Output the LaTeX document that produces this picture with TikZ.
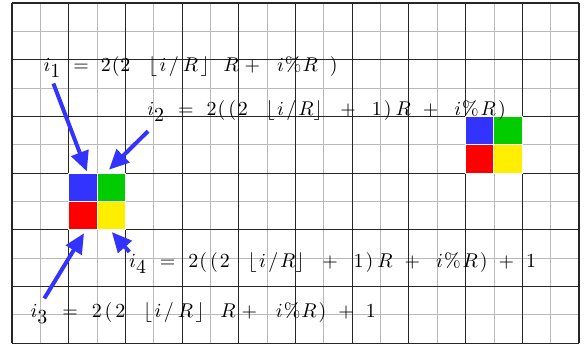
\documentclass[tikz,border=0pt]{standalone}
\usetikzlibrary{arrows.meta}
\definecolor{sqblue}{RGB}{51,51,255}
\definecolor{sqgreen}{RGB}{0,204,0}
\definecolor{sqred}{RGB}{255,0,0}
\definecolor{sqyellow}{RGB}{255,238,0}
\newcommand{\gsp}[1]{\hspace{#1pt}}
\begin{document}
\begin{tikzpicture}[
  minorgrid/.style={gray!55, line width=0.45pt},
  majorgrid/.style={black!85, line width=0.55pt},
  cell/.style={draw=white, line width=0.5pt, minimum size=0.5cm, inner sep=0pt, outer sep=0pt},
  pointer/.style={sqblue, line width=2pt, -{Triangle[length=10pt,width=9pt]}},
  formula/.style={anchor=base west, inner sep=0pt, font=\normalsize}
]
\useasboundingbox (-0.212,-0.07) rectangle (10.088,6.053);
\draw[minorgrid] (0,0) grid[step=0.5] (10,6);
\draw[majorgrid] (0,0) grid[step=1] (10,6);
% left block
\node[cell, fill=sqblue]   (b1) at (1.25,2.75) {};
\node[cell, fill=sqgreen]  (g1) at (1.75,2.75) {};
\node[cell, fill=sqred]    (r1) at (1.25,2.25) {};
\node[cell, fill=sqyellow] (y1) at (1.75,2.25) {};
% right block
\node[cell, fill=sqblue]   (b2) at (8.25,3.75) {};
\node[cell, fill=sqgreen]  (g2) at (8.75,3.75) {};
\node[cell, fill=sqred]    (r2) at (8.25,3.25) {};
\node[cell, fill=sqyellow] (y2) at (8.75,3.25) {};
% labels
\node[formula] (l1) at (0.55,4.80) {$i_{\textstyle 1}\gsp{6}{=}\gsp{6}2\gsp{.5}(\gsp{.5}2\gsp{9}\lfloor\gsp{1.2}i\gsp{1.2}/\gsp{2}R\gsp{1.2}\rfloor\gsp{7}R\gsp{3}{+}\gsp{8.5}i\gsp{.5}\%\gsp{.5}R\gsp{6})$};
\node[formula] (l2) at (2.38,4.02) {$i_{\textstyle 2}\gsp{6.5}{=}\gsp{6.5}2\gsp{.5}(\gsp{1.5}(\gsp{1}2\gsp{9}\lfloor\gsp{1.2}i\gsp{1.2}/\gsp{1}R\rfloor\gsp{9}{+}\gsp{8}1\gsp{1})\gsp{2}R\gsp{6}{+}\gsp{8}i\gsp{.5}\%\gsp{1}R\gsp{1})$};
\node[formula] (l4) at (2.06,1.34) {$i_{\textstyle 4}\gsp{6.5}{=}\gsp{6.5}2\gsp{.5}(\gsp{1.5}(\gsp{1}2\gsp{9}\lfloor\gsp{1.2}i\gsp{1.2}/\gsp{1}R\rfloor\gsp{9}{+}\gsp{8}1\gsp{1})\gsp{2}R\gsp{6}{+}\gsp{8}i\gsp{.5}\%\gsp{1}R\gsp{1})\gsp{5.5}{+}\gsp{6}1$};
\node[formula] (l3) at (0.32,0.46) {$i_{\textstyle 3}\gsp{7}{=}\gsp{7}2\gsp{1.5}(\gsp{1.5}2\gsp{9}\lfloor\gsp{1.2}i\gsp{1.2}/\gsp{2}R\gsp{1.2}\rfloor\gsp{8}R\gsp{3}{+}\gsp{9.5}i\gsp{.5}\%\gsp{.5}R\gsp{1})\gsp{6}{+}\gsp{6}1$};
% arrow ends
\coordinate (t1) at (0.73,4.58);
\coordinate (t2) at (2.40,3.74);
\coordinate (t3) at (0.57,0.79);
\coordinate (t4) at (2.07,1.61);
\coordinate (h1) at ([shift={(0.07,0.03)}]b1.north);
\coordinate (h2) at ([shift={(-0.04,0.06)}]g1.north);
\coordinate (h3) at ([shift={(0.02,-0.06)}]r1.south);
\coordinate (h4) at ([shift={(0.01,-0.04)}]y1.south);
\draw[pointer] (t1) -- (h1);
\draw[pointer] (t2) -- (h2);
\draw[pointer] (t3) -- (h3);
\draw[pointer] (t4) -- (h4);
\end{tikzpicture}
\end{document}
